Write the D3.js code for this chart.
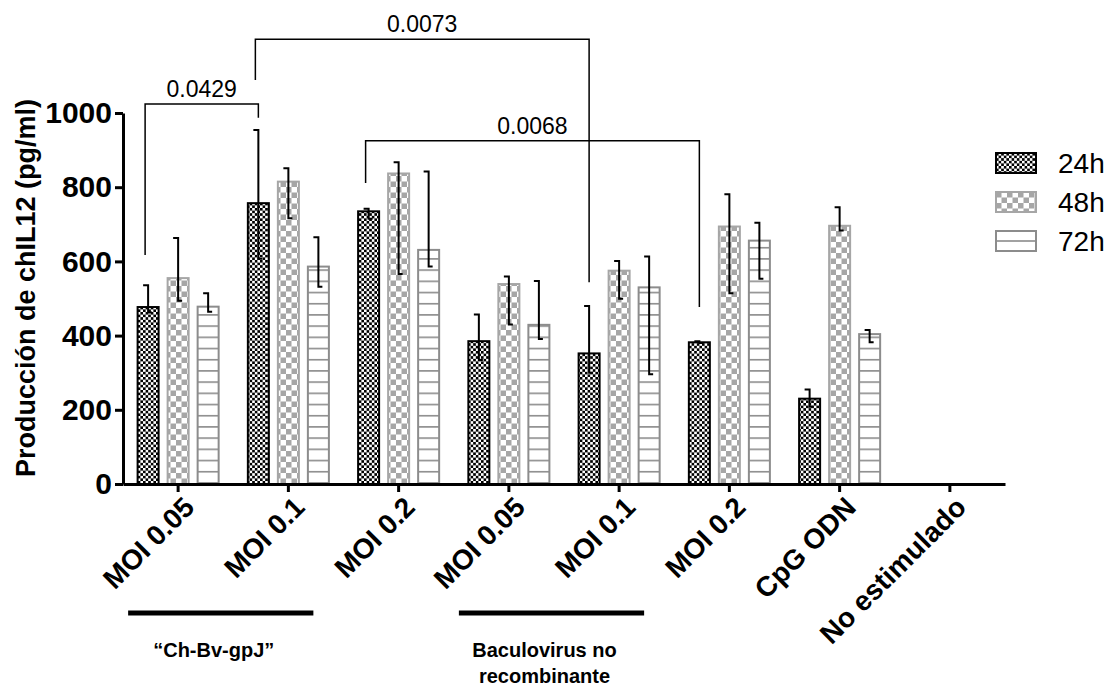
<!DOCTYPE html>
<html>
<head>
<meta charset="utf-8">
<title>chIL12</title>
<script src="https://cdn.jsdelivr.net/npm/d3@7"></script>
<style>
  body { margin: 0; background: #fff; }
  svg text { font-family: "Liberation Sans", Arial, sans-serif; }
</style>
</head>
<body>
<div id="chart"></div>
<script>
// values (pg/ml)
var categories = ["MOI 0.05", "MOI 0.1", "MOI 0.2", "MOI 0.05", "MOI 0.1", "MOI 0.2", "CpG ODN", "No estimulado"];
var series = ["24h", "48h", "72h"];

var mean24 = [477, 757, 735, 385, 352, 382, 230, 0];
var hi24   = [536, 954, 742, 457, 480, 385, 255, 0];
var lo24   = [462, 607, 715, 334, 300, 380, 208, 0];

var mean48 = [555, 815, 837, 539, 575, 694, 696, 0];
var hi48   = [663, 851, 867, 559, 601, 781, 746, 0];
var lo48   = [494, 716, 566, 430, 499, 514, 683, 0];

var mean72 = [478, 586, 631, 429, 530, 656, 404, 0];
var hi72   = [514, 665, 842, 547, 613, 704, 415, 0];
var lo72   = [464, 532, 586, 391, 296, 553, 382, 0];

var yTicks = [0, 200, 400, 600, 800, 1000];

// p-value brackets: bar pairs, top and leg ends in data units
var brackets = [
  { label: "0.0429", a: 0, b: 1, top: 1024, legA: 617, legB: 987 },
  { label: "0.0073", a: 1, b: 4, top: 1199, legA: 1089, legB: 544 },
  { label: "0.0068", a: 2, b: 5, top: 925, legA: 811, legB: 477 }
];

var groupNotes = [
  { lines: ["\u201cCh-Bv-gpJ\u201d"], from: 0, to: 1 },
  { lines: ["Baculovirus no", "recombinante"], from: 3, to: 4 }
];

var W = 1110, H = 688;
var svg = d3.select("#chart").append("svg").attr("width", W).attr("height", H);

var x0 = d3.scaleBand().domain(d3.range(categories.length)).range([123, 1005])
  .paddingInner(0.265).paddingOuter(0.1325);
var x1 = d3.scaleBand().domain(series).range([0, x0.bandwidth()]).paddingInner(0.3);
var y = d3.scaleLinear().domain([0, 1000]).range([484, 113]);

// fill patterns
var defs = svg.append("defs");
var p24 = defs.append("pattern").attr("id", "p24").attr("patternUnits", "userSpaceOnUse")
  .attr("width", 5.2).attr("height", 5.2);
p24.append("rect").attr("width", 5.2).attr("height", 5.2).attr("fill", "#fff");
p24.append("rect").attr("width", 2.6).attr("height", 2.6).attr("fill", "#000");
p24.append("rect").attr("x", 2.6).attr("y", 2.6).attr("width", 2.6).attr("height", 2.6).attr("fill", "#000");

var p48 = defs.append("pattern").attr("id", "p48").attr("patternUnits", "userSpaceOnUse")
  .attr("width", 11).attr("height", 11);
p48.append("rect").attr("width", 11).attr("height", 11).attr("fill", "#fff");
p48.append("rect").attr("width", 5.5).attr("height", 5.5).attr("fill", "#a6a6a6");
p48.append("rect").attr("x", 5.5).attr("y", 5.5).attr("width", 5.5).attr("height", 5.5).attr("fill", "#a6a6a6");

var p72 = defs.append("pattern").attr("id", "p72").attr("patternUnits", "userSpaceOnUse")
  .attr("width", 10).attr("height", 11.2).attr("patternTransform", "translate(0,0.5)");
p72.append("rect").attr("width", 10).attr("height", 11.2).attr("fill", "#fff");
p72.append("rect").attr("y", 0).attr("width", 10).attr("height", 1.6).attr("fill", "#8c8c8c");

var legLine = defs.append("pattern").attr("id", "p72leg").attr("patternUnits", "objectBoundingBox")
  .attr("width", 1).attr("height", 1);
legLine.append("rect").attr("width", 40).attr("height", 20).attr("fill", "#fff");
legLine.append("rect").attr("y", 9.2).attr("width", 40).attr("height", 1.6).attr("fill", "#8c8c8c");

var style = {
  "24h": { fill: "url(#p24)", stroke: "#000" },
  "48h": { fill: "url(#p48)", stroke: "#a6a6a6" },
  "72h": { fill: "url(#p72)", stroke: "#8c8c8c" }
};

var data = [
  { s: "24h", mean: mean24, hi: hi24, lo: lo24 },
  { s: "48h", mean: mean48, hi: hi48, lo: lo48 },
  { s: "72h", mean: mean72, hi: hi72, lo: lo72 }
];

var rows = [];
data.forEach(function(d) {
  d.mean.forEach(function(v, i) {
    rows.push({ cat: i, s: d.s, v: v, hi: d.hi[i], lo: d.lo[i] });
  });
});
var drawn = rows.filter(function(r) { return r.v > 0; });

function cx(cat, s) { return x0(cat) + x1(s) + x1.bandwidth() / 2; }

// bars
svg.append("g").selectAll("rect").data(drawn).enter().append("rect")
  .attr("x", function(d) { return x0(d.cat) + x1(d.s); })
  .attr("y", function(d) { return y(d.v); })
  .attr("width", x1.bandwidth())
  .attr("height", function(d) { return y(0) - y(d.v); })
  .attr("fill", function(d) { return style[d.s].fill; })
  .attr("stroke", function(d) { return style[d.s].stroke; })
  .attr("stroke-width", 2);

// error bars
svg.append("g").selectAll("path").data(drawn).enter().append("path")
  .attr("d", function(d) {
    var c = cx(d.cat, d.s);
    return "M" + (c - 5) + "," + y(d.hi) + "H" + c + "V" + y(d.lo) + "H" + (c + 4);
  })
  .attr("fill", "none").attr("stroke", "#000").attr("stroke-width", 2);

// axes
var yAxis = svg.append("g").attr("transform", "translate(123,0)")
  .call(d3.axisLeft(y).tickValues(yTicks).tickFormat(d3.format("d"))
    .tickSize(8).tickSizeOuter(0).tickPadding(3));
yAxis.selectAll("text").attr("font-size", 30).attr("font-weight", "bold")
  .attr("font-family", "Liberation Sans, Arial, sans-serif").attr("fill", "#000");

var xAxis = svg.append("g").attr("transform", "translate(0," + y(0) + ")")
  .call(d3.axisBottom(x0).tickFormat(function(i) { return categories[i]; }).tickSize(8).tickSizeOuter(0));
xAxis.selectAll("text").attr("font-size", 28).attr("font-weight", "bold")
  .attr("font-family", "Liberation Sans, Arial, sans-serif").attr("fill", "#000")
  .attr("text-anchor", "end").attr("dy", 0).attr("y", 0)
  .attr("transform", "translate(18,25) rotate(-45)");

svg.selectAll(".domain").attr("stroke", "#000").attr("stroke-width", 3);
svg.selectAll(".tick line").attr("stroke", "#000").attr("stroke-width", 3);

svg.append("text").attr("transform", "translate(35,288) rotate(-90)")
  .attr("text-anchor", "middle").attr("font-size", 27).attr("font-weight", "bold")
  .text("Producci\u00f3n de chIL12 (pg/ml)");

// brackets
var bg = svg.append("g");
brackets.forEach(function(b) {
  var xa = cx(b.a, "24h") - 3, xb = cx(b.b, "24h");
  bg.append("path")
    .attr("d", "M" + xa + "," + y(b.legA) + "V" + y(b.top) + "H" + xb + "V" + y(b.legB))
    .attr("fill", "none").attr("stroke", "#000").attr("stroke-width", 1.5);
  bg.append("text").attr("x", (xa + xb) / 2).attr("y", y(b.top) - 7)
    .attr("text-anchor", "middle").attr("font-size", 23).text(b.label);
});

// group notes under the axis
groupNotes.forEach(function(g) {
  var xa = x0(g.from) + x0.bandwidth() / 2 - 50;
  var xb = x0(g.to) + x0.bandwidth() / 2 + 25;
  svg.append("line").attr("x1", xa).attr("x2", xb).attr("y1", 613).attr("y2", 613)
    .attr("stroke", "#000").attr("stroke-width", 5);
  g.lines.forEach(function(t, k) {
    svg.append("text").attr("x", (xa + xb) / 2 - 7).attr("y", 657 + k * 26)
      .attr("text-anchor", "middle").attr("font-size", 20).attr("font-weight", "bold")
      .attr("font-family", "Lato, sans-serif").text(t);
  });
});

// legend
var lg = svg.append("g").attr("transform", "translate(996,153)");
series.forEach(function(s, i) {
  var row = lg.append("g").attr("transform", "translate(0," + i * 39 + ")");
  row.append("rect").attr("width", 40).attr("height", 20)
    .attr("fill", s === "72h" ? "url(#p72leg)" : style[s].fill)
    .attr("stroke", style[s].stroke).attr("stroke-width", 2);
  row.append("text").attr("x", 62).attr("y", 10).attr("dy", "0.35em")
    .attr("font-size", 28).text(s);
});
</script>
</body>
</html>
